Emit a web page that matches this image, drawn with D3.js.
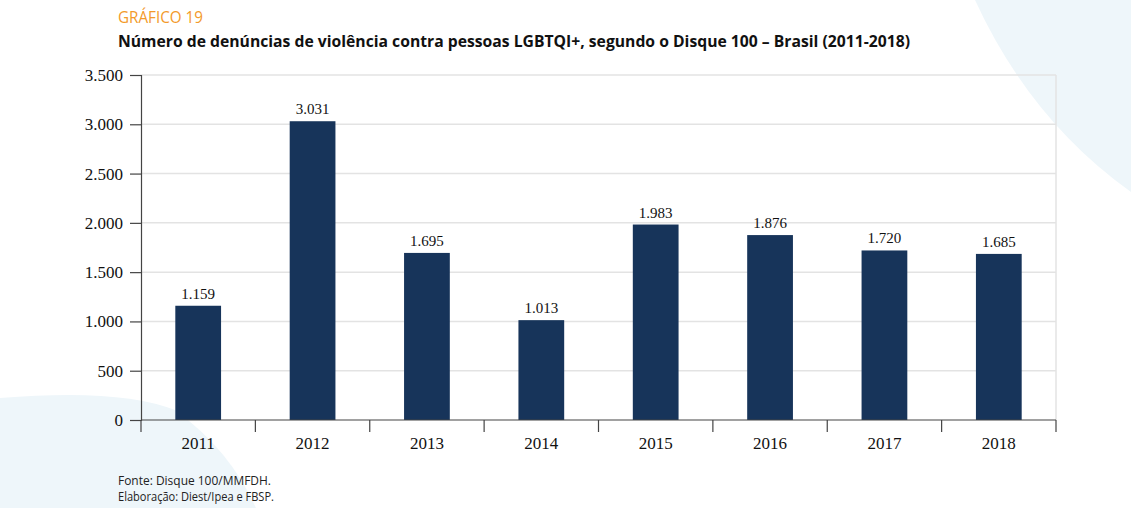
<!DOCTYPE html>
<html lang="pt">
<head>
<meta charset="UTF-8">
<title>Gráfico 19</title>
<script src="https://cdn.jsdelivr.net/npm/d3@7"></script>
<style>
  * { margin: 0; padding: 0; }
  html, body { width: 1131px; height: 508px; overflow: hidden; background: #fff; }
</style>
</head>
<body>
<script>
  // dados do gráfico
  const anos = ['2011', '2012', '2013', '2014', '2015', '2016', '2017', '2018']
  const denuncias = [1159, 3031, 1695, 1013, 1983, 1876, 1720, 1685]
  const yTicks = [0, 500, 1000, 1500, 2000, 2500, 3000, 3500]

  const width = 1131, height = 508
  const margin = { top: 75, right: 75, bottom: 88, left: 141 }

  const svg = d3.select('body').append('svg').attr('width', width).attr('height', height)

  // formas decorativas do fundo
  svg.append('path')
    .attr('d', 'M975,0 Q1030,120 1131,192 L1131,0 Z')
    .attr('fill', '#eef6fa')
  svg.append('path')
    .attr('d', 'M0,398 Q120,388 175,410 Q230,450 256,508 L0,508 Z')
    .attr('fill', '#eef6fa')

  const fmt = d3.formatLocale({ decimal: ',', thousands: '.', grouping: [3], currency: ['R$', ''] }).format(',d')

  const x = d3.scaleBand().domain(anos)
    .range([margin.left, width - margin.right])
    .paddingInner(0.6).paddingOuter(0.3)
  const y = d3.scaleLinear().domain([0, 3500]).range([height - margin.bottom, margin.top])

  // grade
  svg.append('g').selectAll('line').data(yTicks.slice(1)).join('line')
    .attr('x1', margin.left).attr('x2', width - margin.right)
    .attr('y1', d => y(d)).attr('y2', d => y(d))
    .attr('stroke', '#e3e3e3').attr('stroke-width', 1.5)
  svg.append('line')
    .attr('x1', width - margin.right).attr('x2', width - margin.right)
    .attr('y1', margin.top).attr('y2', y(0))
    .attr('stroke', '#e3e3e3').attr('stroke-width', 1.5)

  // barras
  svg.append('g').selectAll('rect').data(denuncias).join('rect')
    .attr('x', (d, i) => x(anos[i]))
    .attr('y', d => y(d))
    .attr('width', x.bandwidth())
    .attr('height', d => y(0) - y(d))
    .attr('fill', '#17345a')

  // rótulos dos valores
  svg.append('g').selectAll('text').data(denuncias).join('text')
    .attr('x', (d, i) => x(anos[i]) + x.bandwidth() / 2)
    .attr('y', d => y(d) - 7)
    .attr('text-anchor', 'middle')
    .style('font-family', '"Liberation Serif", "DejaVu Serif", serif')
    .style('font-size', '15px')
    .attr('fill', '#111')
    .text(d => fmt(d))

  // eixo y
  const yAxis = svg.append('g').attr('transform', `translate(${margin.left},0)`)
    .call(d3.axisLeft(y).tickValues(yTicks).tickSize(11).tickPadding(7).tickFormat(fmt))
  yAxis.select('.domain').attr('stroke', '#444').attr('stroke-width', 1.2)
  yAxis.selectAll('.tick line').attr('stroke', '#444').attr('stroke-width', 1.2)
  yAxis.selectAll('text')
    .style('font-family', '"Liberation Serif", "DejaVu Serif", serif')
    .style('font-size', '17px').attr('fill', '#111')

  // eixo x com marcas entre categorias
  const xAxis = svg.append('g').attr('transform', `translate(0,${y(0)})`)
  xAxis.append('line')
    .attr('x1', margin.left).attr('x2', width - margin.right)
    .attr('stroke', '#444').attr('stroke-width', 1.2)
  const edges = anos.map(a => x(a) - x.step() * x.paddingOuter())
  edges.push(width - margin.right)
  xAxis.selectAll('.tk').data(edges).join('line').attr('class', 'tk')
    .attr('x1', d => d).attr('x2', d => d)
    .attr('y1', 0).attr('y2', 12)
    .attr('stroke', '#444').attr('stroke-width', 1.2)
  xAxis.selectAll('text').data(anos).join('text')
    .attr('x', d => x(d) + x.bandwidth() / 2)
    .attr('y', 29)
    .attr('text-anchor', 'middle')
    .style('font-family', '"Liberation Serif", "DejaVu Serif", serif')
    .style('font-size', '17px').attr('fill', '#111')
    .text(d => d)

  // títulos
  svg.append('text').attr('x', 118).attr('y', 23)
    .style('font-family', '"Open Sans", sans-serif')
    .style('font-size', '16px').attr('fill', '#f39a2a')
    .attr('textLength', 85).attr('lengthAdjust', 'spacingAndGlyphs')
    .text('GRÁFICO 19')
  svg.append('text').attr('x', 118).attr('y', 47)
    .style('font-family', '"Open Sans", sans-serif')
    .style('font-size', '16px').style('font-weight', 'bold').attr('fill', '#111')
    .attr('textLength', 792).attr('lengthAdjust', 'spacingAndGlyphs')
    .text('Número de denúncias de violência contra pessoas LGBTQI+, segundo o Disque 100 – Brasil (2011-2018)')

  // fonte
  const nota = svg.append('g')
    .style('font-family', '"Open Sans", sans-serif')
    .style('font-size', '12px').attr('fill', '#222')
  nota.append('text').attr('x', 118).attr('y', 485)
    .attr('textLength', 153).attr('lengthAdjust', 'spacingAndGlyphs')
    .text('Fonte: Disque 100/MMFDH.')
  nota.append('text').attr('x', 118).attr('y', 501)
    .attr('textLength', 156).attr('lengthAdjust', 'spacingAndGlyphs')
    .text('Elaboração: Diest/Ipea e FBSP.')
</script>
</body>
</html>
